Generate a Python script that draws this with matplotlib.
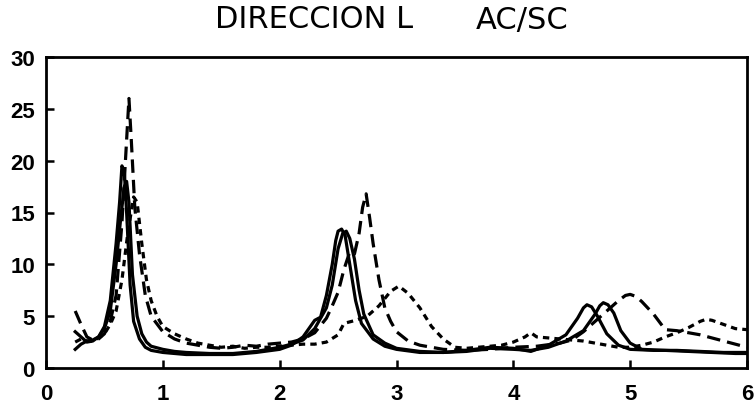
import matplotlib
matplotlib.use("Agg")
import matplotlib.pyplot as plt

title_left = "DIRECCION L"
title_right = "AC/SC"
x_ticks = [0, 1, 2, 3, 4, 5, 6]
y_ticks = [0, 5, 10, 15, 20, 25, 30]

# solid 1
a_x = [0.25,0.3,0.35,0.4,0.45,0.5,0.55,0.6,0.63,0.65,0.67,0.69,0.72,0.75,0.8,0.85,0.9,1.0,1.1,1.2,1.4,1.6,1.8,2.0,2.1,2.2,2.3,2.35,2.4,2.45,2.48,2.5,2.53,2.56,2.6,2.65,2.7,2.8,2.9,3.0,3.2,3.4,3.6,3.8,4.0,4.15,4.3,4.45,4.55,4.6,4.63,4.67,4.72,4.8,4.9,5.0,5.2,5.4,5.6,5.8,6.0]
a_y = [3.5,3.0,2.5,2.6,3.0,4.0,6.5,12,16,19.5,19,15,8,4.5,2.8,2.0,1.7,1.5,1.4,1.3,1.3,1.3,1.5,1.8,2.2,3.0,4.6,4.9,7.0,10,12.3,13.2,13.4,12.8,10,6.5,4.3,2.8,2.1,1.8,1.5,1.5,1.7,2.0,1.9,1.6,2.2,3.2,4.8,5.8,6.1,5.9,5.0,3.3,2.2,1.8,1.7,1.7,1.6,1.5,1.5]

# solid 2
b_x = [0.25,0.3,0.35,0.4,0.45,0.5,0.55,0.6,0.64,0.67,0.69,0.71,0.74,0.78,0.82,0.86,0.9,1.0,1.1,1.2,1.4,1.6,1.8,2.0,2.1,2.2,2.3,2.4,2.45,2.5,2.54,2.57,2.6,2.64,2.68,2.72,2.8,2.9,3.0,3.2,3.4,3.6,3.8,4.0,4.15,4.3,4.45,4.6,4.7,4.74,4.77,4.81,4.86,4.92,5.0,5.1,5.3,5.5,5.7,5.9,6.0]
b_y = [1.8,2.3,2.6,2.7,3.0,3.8,5.5,10,14.5,17.5,18,16,9,5,3.3,2.5,2.1,1.8,1.6,1.5,1.4,1.4,1.6,2.0,2.3,2.7,3.8,5.8,8,11.5,13,13.2,12.5,10.5,7.5,5.2,3.2,2.4,1.9,1.6,1.5,1.6,1.9,1.8,1.7,2.0,2.6,3.6,5.2,6.0,6.3,6.1,5.3,3.6,2.4,1.8,1.7,1.6,1.5,1.4,1.4]

# long dashed
c_x = [0.25,0.3,0.35,0.4,0.45,0.5,0.55,0.6,0.65,0.69,0.71,0.73,0.76,0.8,0.85,0.9,1.0,1.1,1.2,1.3,1.4,1.5,1.6,1.7,1.8,1.9,2.0,2.1,2.2,2.3,2.4,2.45,2.5,2.55,2.6,2.64,2.68,2.71,2.74,2.77,2.8,2.85,2.9,2.95,3.0,3.1,3.2,3.4,3.6,3.8,4.0,4.2,4.4,4.5,4.6,4.7,4.8,4.9,4.96,5.0,5.05,5.1,5.2,5.3,5.4,5.5,5.6,5.7,5.8,5.9,6.0]
c_y = [5.5,4.2,3.0,2.7,2.8,3.3,4.5,7,14,22,26,22,15.5,11,7,5,3.5,2.8,2.4,2.2,2.0,1.9,2.0,2.2,2.1,2.3,2.4,2.5,2.8,3.4,4.8,6.0,7.3,9.5,11.2,11,13,15.5,16.8,14.5,12,8.5,5.8,4.5,3.5,2.6,2.2,1.8,1.7,1.8,2.0,2.1,2.4,2.7,3.5,4.5,5.5,6.5,7.0,7.1,6.9,6.4,5.2,3.7,3.6,3.4,3.2,2.9,2.6,2.3,2.0]

# short dashed
d_x = [0.25,0.3,0.35,0.4,0.45,0.5,0.55,0.6,0.65,0.7,0.75,0.78,0.82,0.86,0.9,0.95,1.0,1.1,1.2,1.3,1.4,1.5,1.6,1.7,1.8,1.9,2.0,2.1,2.2,2.3,2.4,2.5,2.55,2.65,2.75,2.85,2.95,3.02,3.1,3.2,3.3,3.4,3.5,3.6,3.7,3.8,3.9,4.0,4.1,4.15,4.2,4.3,4.4,4.5,4.6,4.7,4.8,4.9,5.0,5.1,5.2,5.3,5.4,5.5,5.6,5.65,5.7,5.8,5.9,6.0]
d_y = [2.5,2.8,2.6,2.6,2.9,3.3,4.2,5.5,8.5,13,16.5,16,12,8.5,6.5,5,4,3.3,2.8,2.4,2.2,2.0,2.1,1.9,2.0,2.0,2.1,2.2,2.3,2.3,2.5,3.2,4.3,4.6,5.0,6.0,7.4,7.9,7.2,5.8,4.0,2.8,2.0,1.9,2.0,2.1,2.2,2.5,3.0,3.4,3.0,2.9,2.8,2.7,2.6,2.4,2.2,2.0,2.0,2.2,2.5,3.0,3.4,3.9,4.5,4.7,4.6,4.2,3.8,3.7]

fig = plt.figure(figsize=(7.56, 4.06), dpi=100)
ax = fig.add_axes([46/756, 1-369/406, (747-46)/756, (369-58)/406])

lw = 2.3
ax.plot(a_x, a_y, color="black", lw=lw, solid_joinstyle="round")
ax.plot(b_x, b_y, color="black", lw=lw, solid_joinstyle="round")
ax.plot(c_x, c_y, color="black", lw=lw, dashes=(4.2, 2.2))
ax.plot(d_x, d_y, color="black", lw=lw, dashes=(2.0, 1.6))

ax.set_xlim(0, 6)
ax.set_ylim(0, 30)
ax.set_xticks(x_ticks)
ax.set_yticks(y_ticks)
ax.set_xticklabels([str(v) for v in x_ticks], fontfamily="Liberation Sans", fontweight="bold", fontsize=16)
ax.set_yticklabels([str(v) for v in y_ticks], fontfamily="Liberation Sans", fontweight="bold", fontsize=16)
ax.tick_params(direction="in", length=6, width=1.8)
ax.tick_params(axis="x", pad=11)
ax.tick_params(axis="y", pad=8)
for s in ax.spines.values():
    s.set_linewidth(2.0)

fig.text(215/756, 1-20/406, title_left, ha="left", va="center",
         fontfamily="DejaVu Sans", fontsize=22)
fig.text(522/756, 1-20/406, title_right, ha="center", va="center",
         fontfamily="DejaVu Sans", fontsize=22)

fig.savefig("out.png", dpi=100)
